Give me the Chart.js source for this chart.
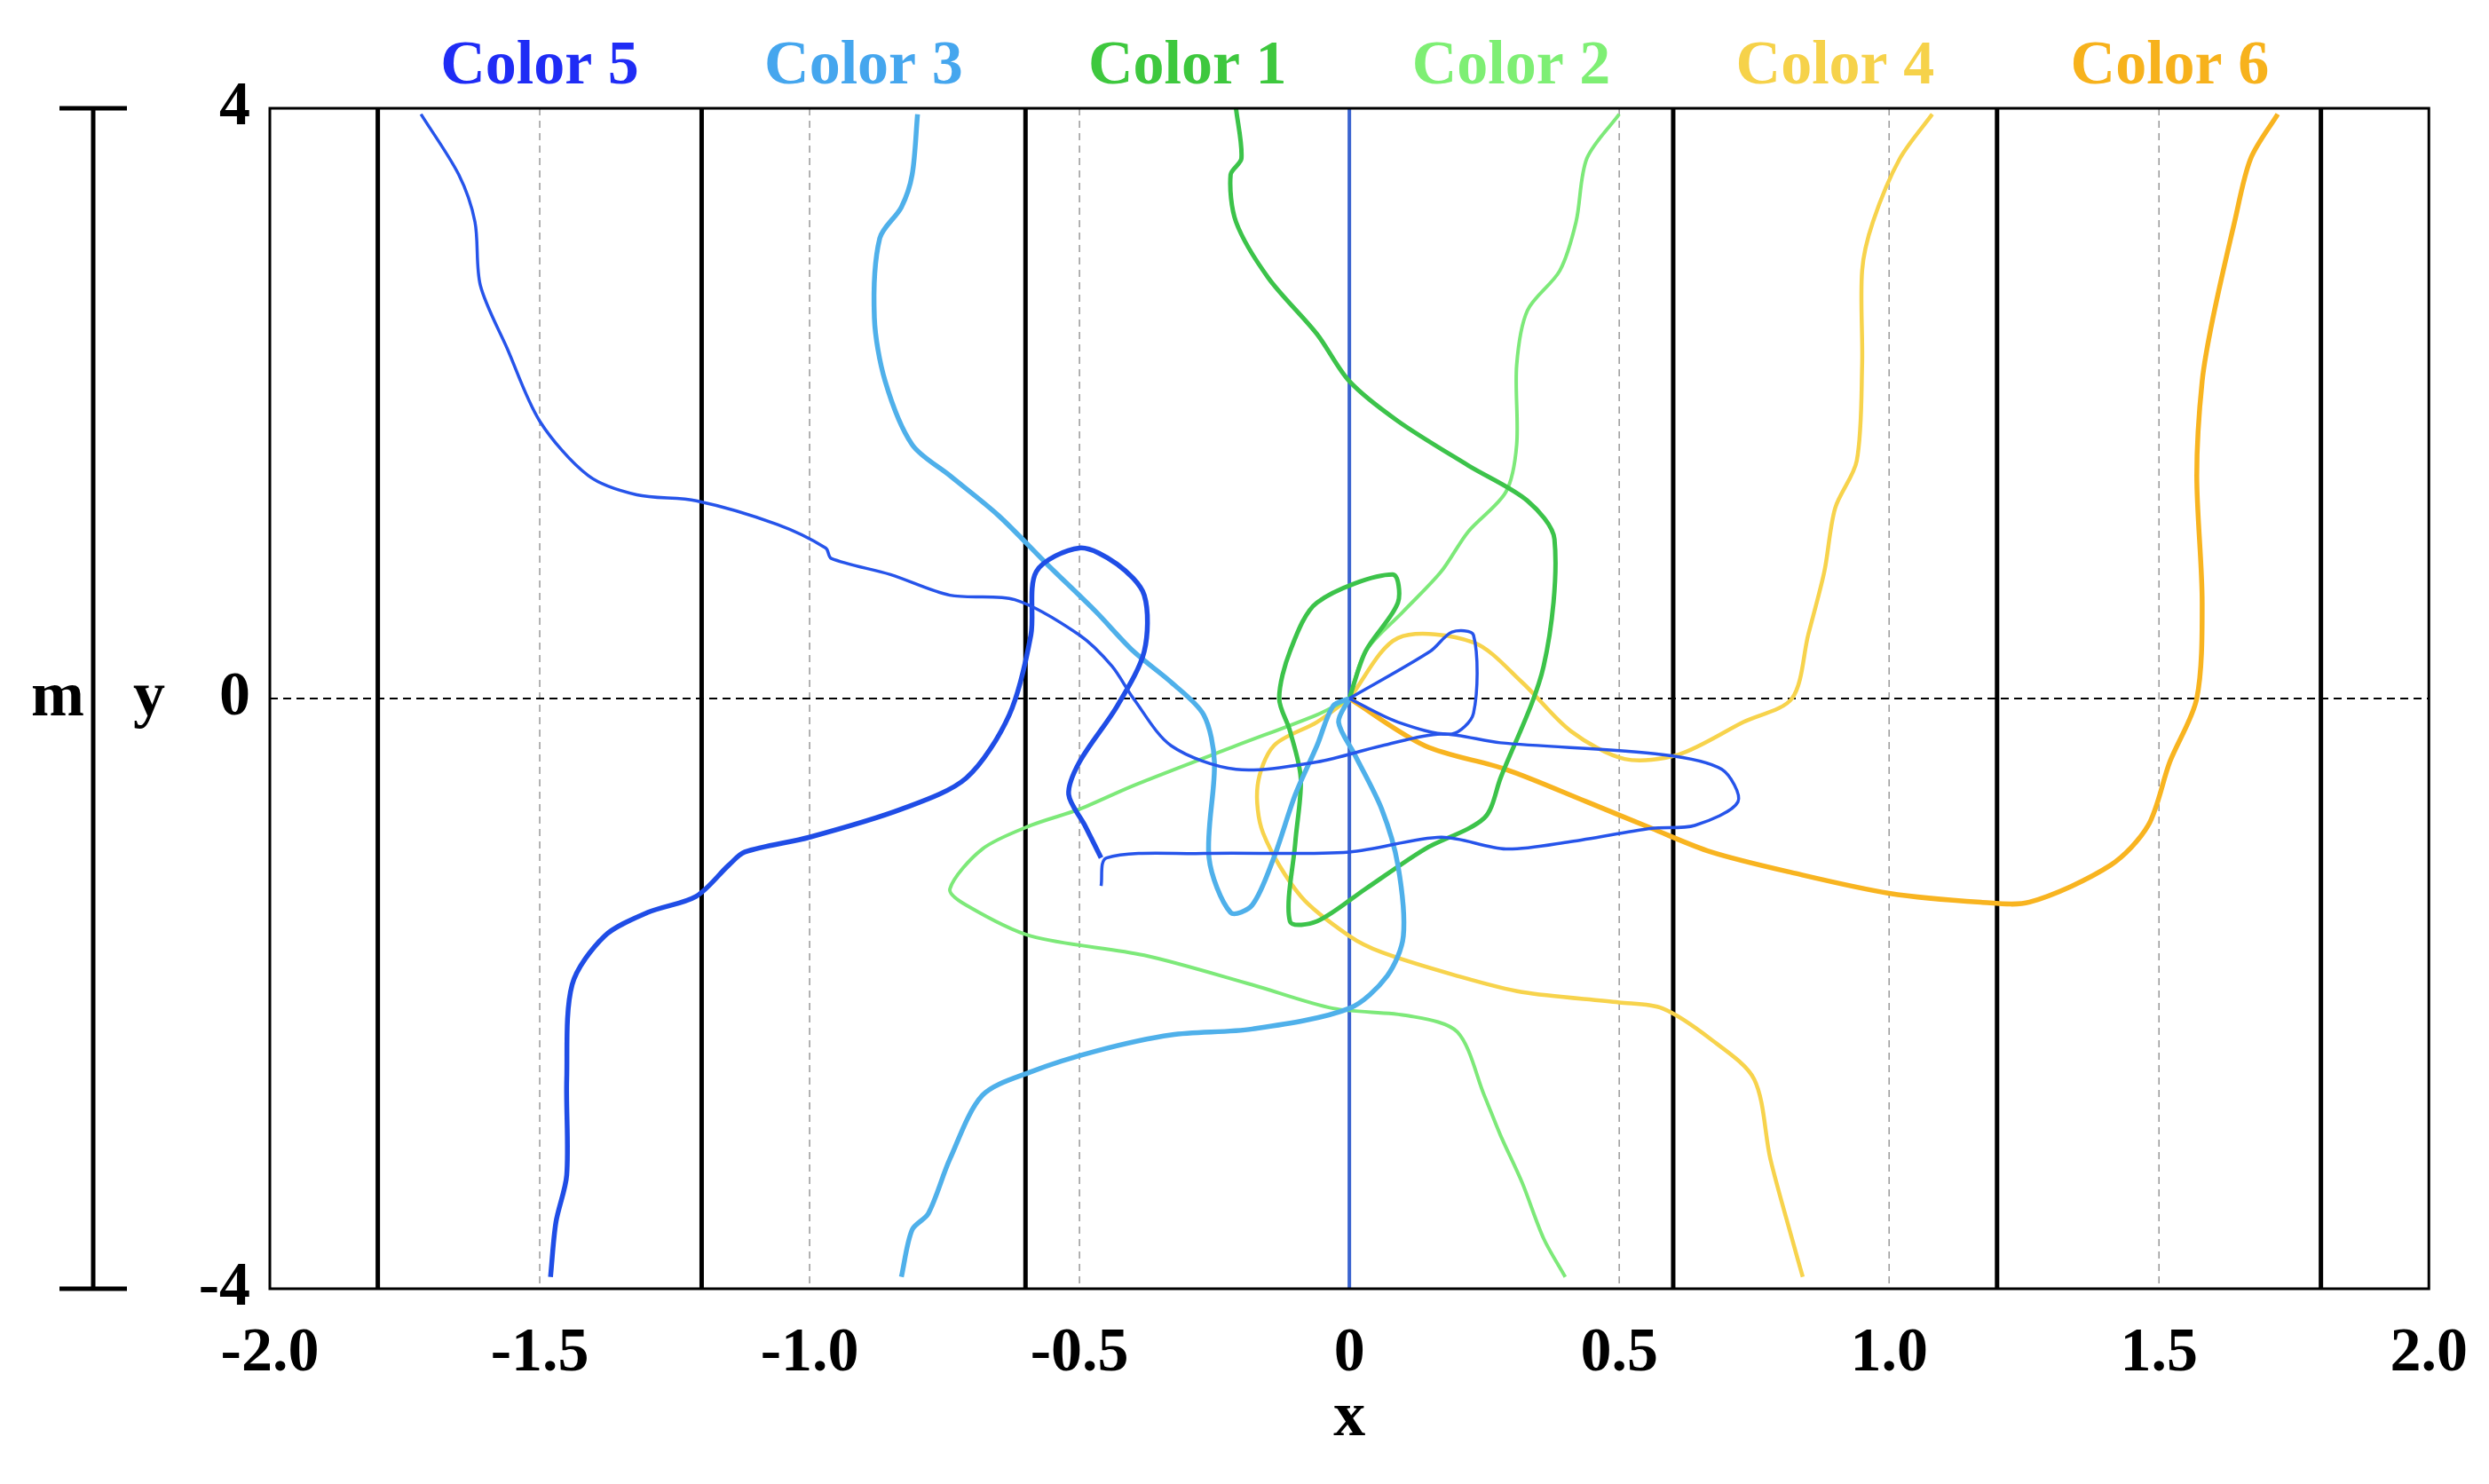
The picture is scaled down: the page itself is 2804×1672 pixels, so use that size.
<!DOCTYPE html>
<html><head><meta charset="utf-8">
<script src="https://cdn.jsdelivr.net/npm/chart.js@4"></script>
<style>html,body{margin:0;padding:0;background:#fff}#wrap{width:2804px;height:1672px}</style>
</head><body><div id="wrap"><canvas id="c"></canvas></div>
<script>
const seriesNames=['Color 5','Color 3','Color 1','Color 2','Color 4','Color 6'];
const labelCenters=[-1.5,-0.9,-0.3,0.3,0.9,1.52];
const xTicks=[-2,-1.5,-1,-0.5,0,0.5,1,1.5,2];
const yTicks=[-4,0,4];
const laneLines=[-1.8,-1.2,-0.6,0.6,1.2,1.8];
const guideLines=[-1.5,-1,-0.5,0.5,1,1.5];
const color5a=[[-1.72,3.96],[-1.65,3.55],[-1.62,3.23],[-1.61,2.8],[-1.56,2.37],[-1.5,1.88],[-1.41,1.51],[-1.32,1.38],[-1.21,1.34],[-1.06,1.18],[-0.97,1.02],[-0.96,0.95],[-0.85,0.84],[-0.74,0.7],[-0.62,0.67],[-0.5,0.43],[-0.44,0.22],[-0.4,0],[-0.33,-0.32],[-0.21,-0.48],[-0.06,-0.43],[0.06,-0.32],[0.17,-0.24],[0.28,-0.3],[0.58,-0.38],[0.69,-0.48],[0.72,-0.7],[0.64,-0.86],[0.56,-0.88],[0.41,-0.97],[0.29,-1.02],[0.17,-0.94],[0,-1.04],[-0.27,-1.05],[-0.45,-1.08],[-0.46,-1.27]];
const color5c=[[0,0],[0.15,0.32],[0.19,0.45],[0.23,0.43],[0.23,-0.1],[0.19,-0.24],[0.09,-0.16],[0,0]];
const color5b=[[-1.48,-3.92],[-1.47,-3.55],[-1.45,-3.23],[-1.45,-2.58],[-1.44,-1.94],[-1.38,-1.61],[-1.3,-1.45],[-1.21,-1.34],[-1.15,-1.13],[-1.12,-1.04],[-1.0,-0.94],[-0.83,-0.75],[-0.71,-0.54],[-0.63,-0.11],[-0.59,0.43],[-0.58,0.86],[-0.5,1.02],[-0.43,0.91],[-0.38,0.7],[-0.38,0.32],[-0.43,-0.05],[-0.5,-0.43],[-0.52,-0.65],[-0.49,-0.86],[-0.46,-1.08]];
const color3a=[[-0.8,3.96],[-0.81,3.55],[-0.83,3.33],[-0.87,3.12],[-0.88,2.58],[-0.86,2.15],[-0.81,1.72],[-0.74,1.51],[-0.65,1.24],[-0.56,0.91],[-0.47,0.59],[-0.4,0.32],[-0.33,0.11],[-0.27,-0.11],[-0.25,-0.43],[-0.26,-1.08],[-0.22,-1.45],[-0.18,-1.4],[-0.14,-1.08],[-0.1,-0.65],[-0.06,-0.32],[-0.03,-0.05],[0,0]];
const color3b=[[-0.83,-3.92],[-0.81,-3.6],[-0.78,-3.49],[-0.74,-3.12],[-0.68,-2.69],[-0.59,-2.53],[-0.47,-2.39],[-0.33,-2.28],[-0.18,-2.24],[0,-2.1],[0.07,-1.88],[0.1,-1.61],[0.09,-1.13],[0.06,-0.75],[0.01,-0.38],[-0.02,-0.16],[0,0]];
const color1=[[-0.21,4],[-0.2,3.66],[-0.22,3.55],[-0.21,3.23],[-0.15,2.85],[-0.06,2.47],[0,2.15],[0.09,1.88],[0.22,1.58],[0.33,1.34],[0.38,1.08],[0.36,0.22],[0.28,-0.54],[0.25,-0.81],[0.14,-1.02],[0.03,-1.29],[-0.06,-1.51],[-0.11,-1.51],[-0.1,-0.97],[-0.09,-0.54],[-0.11,-0.22],[-0.13,0],[-0.11,0.32],[-0.06,0.65],[0.08,0.84],[0.09,0.65],[0.03,0.32],[0,0]];
const color2a=[[0.5,3.96],[0.44,3.66],[0.42,3.23],[0.39,2.9],[0.33,2.63],[0.31,2.26],[0.31,1.72],[0.29,1.4],[0.22,1.13],[0.17,0.86],[0.1,0.59],[0.03,0.32],[0,0]];
const color2b=[[0.4,-3.92],[0.36,-3.66],[0.32,-3.28],[0.28,-2.96],[0.25,-2.69],[0.2,-2.26],[0.11,-2.15],[-0.03,-2.1],[-0.18,-1.94],[-0.38,-1.74],[-0.59,-1.61],[-0.71,-1.4],[-0.74,-1.29],[-0.68,-1.02],[-0.59,-0.86],[-0.5,-0.75],[-0.4,-0.59],[-0.21,-0.32],[-0.06,-0.11],[0,0]];
const color4a=[[1.08,3.96],[1.02,3.66],[0.97,3.23],[0.95,2.9],[0.95,2.26],[0.94,1.61],[0.9,1.29],[0.88,0.86],[0.85,0.43],[0.82,0],[0.73,-0.16],[0.61,-0.38],[0.51,-0.41],[0.41,-0.22],[0.32,0.11],[0.23,0.38],[0.09,0.41],[0,0]];
const color4b=[[0.84,-3.92],[0.82,-3.66],[0.78,-3.12],[0.75,-2.58],[0.67,-2.31],[0.58,-2.1],[0.5,-2.06],[0.32,-1.99],[0.2,-1.88],[0.06,-1.72],[0,-1.61],[-0.09,-1.34],[-0.16,-0.91],[-0.17,-0.59],[-0.14,-0.32],[-0.06,-0.16],[0,0]];
const color6=[[1.72,3.96],[1.67,3.66],[1.64,3.23],[1.6,2.58],[1.58,2.15],[1.57,1.51],[1.58,0.65],[1.57,0],[1.52,-0.43],[1.48,-0.86],[1.41,-1.13],[1.26,-1.38],[1.17,-1.38],[1.0,-1.32],[0.82,-1.18],[0.67,-1.04],[0.56,-0.88],[0.44,-0.7],[0.29,-0.48],[0.14,-0.32],[0,0]];

const titleColors=['#1f2cf5','#45a6ee','#3ec83e','#7eef74','#f6d24a','#f7b21c'];
const lineColors={c5:'#2654ea',c3:'#4fb0ea',c1:'#3cc34a',c2:'#7de979',c4:'#f7d34c',c6:'#f8b420'};
const ds=(d,c,w)=>({data:d.map(p=>({x:p[0],y:p[1]})),showLine:true,borderColor:c,borderWidth:w,pointRadius:0,fill:false,tension:0.3});
const datasets=[ds(color5a,lineColors.c5,3.5),ds(color5c,lineColors.c5,3.5),ds(color5b,'#1f4de6',5.5),ds(color3a,lineColors.c3,5.5),ds(color3b,lineColors.c3,5.5),
ds(color1,lineColors.c1,5),ds(color2a,lineColors.c2,4),ds(color2b,lineColors.c2,4),ds(color4a,lineColors.c4,4.5),ds(color4b,lineColors.c4,4.5),ds(color6,lineColors.c6,5.5)];

const F='"Liberation Serif","Times New Roman",serif';
const deco={id:'deco',
beforeDatasetsDraw(ch){const {ctx,chartArea:a,scales:{x,y}}=ch;ctx.save();
 ctx.strokeStyle='#999';ctx.lineWidth=1.5;ctx.setLineDash([8,6]);
 guideLines.forEach(v=>{const px=x.getPixelForValue(v);ctx.beginPath();ctx.moveTo(px,a.top);ctx.lineTo(px,a.bottom);ctx.stroke();});
 ctx.strokeStyle='#000';ctx.lineWidth=2;ctx.setLineDash([9,6]);const py=y.getPixelForValue(0);
 ctx.beginPath();ctx.moveTo(a.left,py);ctx.lineTo(a.right,py);ctx.stroke();
 ctx.setLineDash([]);ctx.lineWidth=5;
 laneLines.forEach(v=>{const px=x.getPixelForValue(v);ctx.beginPath();ctx.moveTo(px,a.top);ctx.lineTo(px,a.bottom);ctx.stroke();});
 ctx.strokeStyle='#3a64d0';ctx.lineWidth=4;const p0=x.getPixelForValue(0);
 ctx.beginPath();ctx.moveTo(p0,a.top);ctx.lineTo(p0,a.bottom);ctx.stroke();
 ctx.restore();},
afterDraw(ch){const {ctx,chartArea:a,scales:{x,y}}=ch;ctx.save();
 ctx.strokeStyle='#000';ctx.lineWidth=3;ctx.strokeRect(a.left,a.top,a.right-a.left,a.bottom-a.top);
 ctx.font='bold 70px '+F;ctx.textAlign='center';ctx.textBaseline='middle';
 seriesNames.forEach((n,i)=>{ctx.fillStyle=titleColors[i];ctx.fillText(n,x.getPixelForValue(labelCenters[i]),76);});
 const t=y.getPixelForValue(4),b=y.getPixelForValue(-4),bx=105;
 ctx.lineWidth=5;ctx.beginPath();ctx.moveTo(bx,t);ctx.lineTo(bx,b);ctx.moveTo(bx-38,t);ctx.lineTo(bx+38,t);ctx.moveTo(bx-38,b);ctx.lineTo(bx+38,b);ctx.stroke();
 ctx.fillStyle='#000';ctx.font='bold 72px '+F;const py=y.getPixelForValue(0);
 ctx.fillText('m',65,py);ctx.fillText('y',168,py);
 ctx.fillText('x',(a.left+a.right)/2,1598);
 ctx.restore();}};

new Chart(document.getElementById('c'),{type:'scatter',data:{datasets},
options:{responsive:true,maintainAspectRatio:false,animation:false,
 layout:{padding:{top:122,right:65,left:0,bottom:0}},
 plugins:{legend:{display:false},tooltip:{enabled:false}},
 scales:{
  x:{type:'linear',min:-2,max:2,afterBuildTicks:s=>{s.ticks=xTicks.map(v=>({value:v}));},
   grid:{display:false},border:{display:false},
   ticks:{color:'#000',font:{family:F,size:70,weight:'bold'},padding:24,maxRotation:0,callback:v=>v===0?'0':v.toFixed(1)},
   afterFit:s=>{s.height=220;}},
  y:{type:'linear',min:-4,max:4,afterBuildTicks:s=>{s.ticks=yTicks.map(v=>({value:v}));},
   grid:{display:false},border:{display:false},
   ticks:{color:'#000',font:{family:F,size:70,weight:'bold'},padding:14},
   afterFit:s=>{s.width=304;}}}},
plugins:[deco]});
</script></body></html>
